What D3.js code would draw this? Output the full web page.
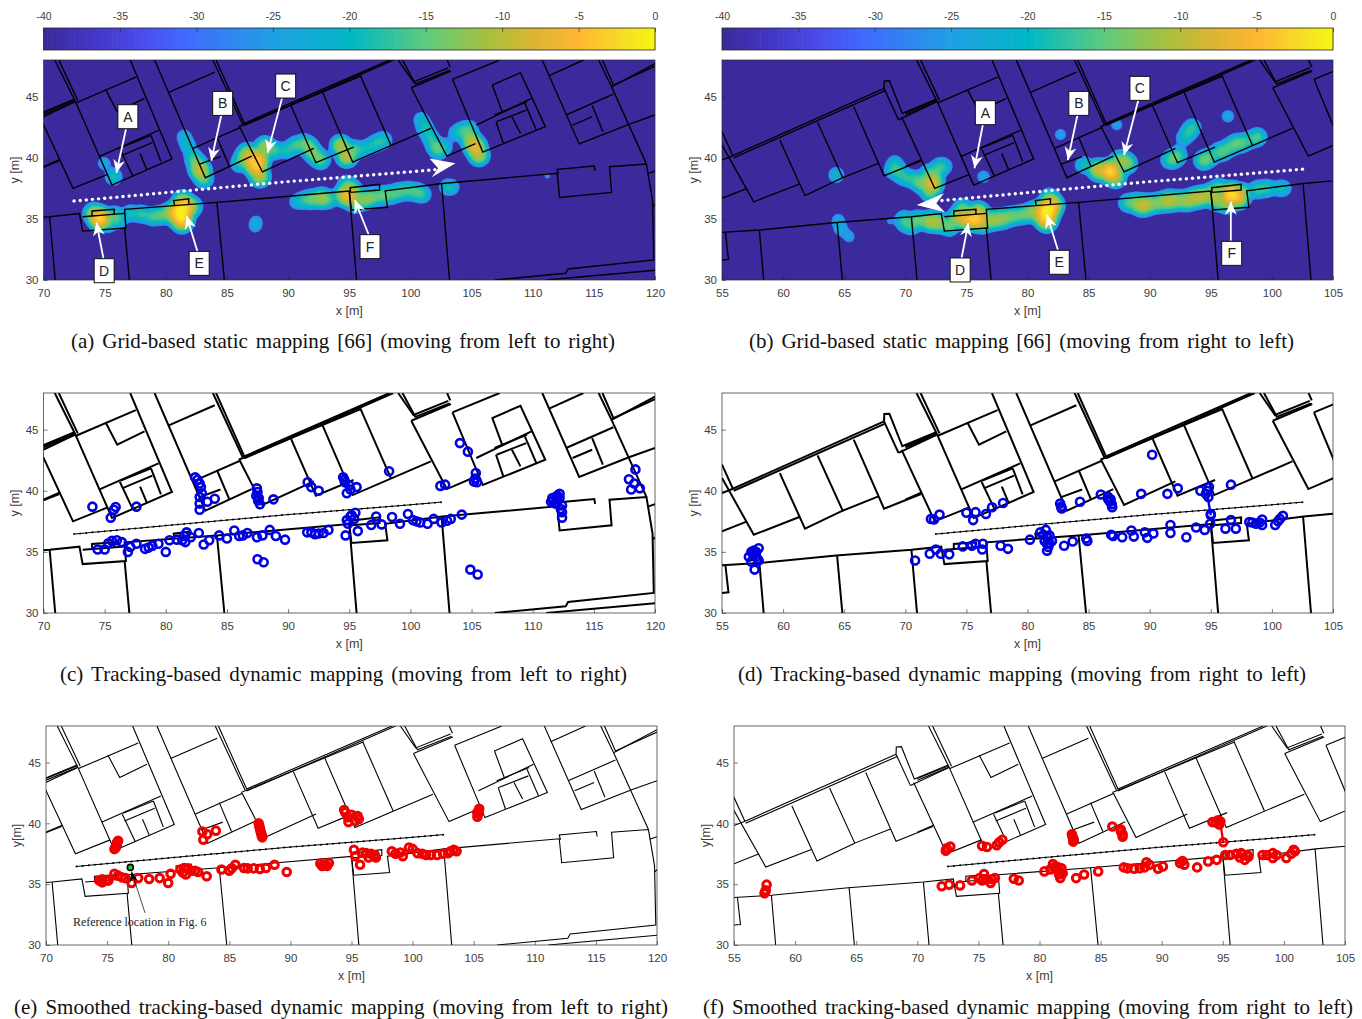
<!DOCTYPE html>
<html><head><meta charset="utf-8">
<script src="https://cdn.jsdelivr.net/npm/d3@7"></script>
<style>html,body{margin:0;padding:0;background:#fff}svg{display:block}text{font-family:"Liberation Sans",sans-serif;fill:#404040}</style>
</head><body><svg id="c" width="1362" height="1019"></svg>
<script>
const xTicksA=[70,75,80,85,90,95,100,105,110,115,120];
const xTicksB=[55,60,65,70,75,80,85,90,95,100,105];
const yTicks=[30,35,40,45];
const cbTicks=[-40,-35,-30,-25,-20,-15,-10,-5,0];
const cbStops=[-40,-37,-34,-31,-25,-20,-15,-11,-8,-5,-2,0];
const cbColors=["#3b2a9c","#4336c4","#4a4ae8","#4068ff","#20a0e4","#00b8c4","#5fcc7c","#a8c03c","#dcb432","#ffb832","#f4e024","#f8f810"];
const captions=["(a) Grid-based static mapping [66] (moving from left to right)","(b) Grid-based static mapping [66] (moving from right to left)","(c) Tracking-based dynamic mapping (moving from left to right)","(d) Tracking-based dynamic mapping (moving from right to left)","(e) Smoothed tracking-based dynamic mapping (moving from left to right)","(f) Smoothed tracking-based dynamic mapping (moving from right to left)"];

const mapLines=[
[[55,33.9],[58.06,34.09],[64.35,34.7],[70.5,35.18],[72.94,35.43],[73.2,34.0],[76.74,34.25],[76.63,35.78],[84.18,36.35],[95,37.28],[95.18,35.73],[98.12,35.95],[97.94,37.3],[102.6,37.9],[112,38.73],[112.2,36.76],[116.45,37.17],[116.28,39.27],[119.3,39.49],[119.8,36.5],[119.9,31.64],[112.9,30.9],[112.7,30.55],[106.9,30]],
[[73.2,35.18],[76.67,35.45]],
[[73.97,35.2],[73.97,35.65],[75.78,35.78],[75.78,35.37]],
[[80.71,36.11],[80.64,36.49],[81.88,36.65],[81.88,36.22]],
[[95.11,37.17],[95.07,37.55],[97.48,37.83],[97.48,37.36],[95.11,37.17]],
[[112.1,38.64],[112,39.05],[115.04,39.33],[115.1,38.92]],
[[55.28,33.9],[55.53,31.69],[55,31.64]],
[[58.06,34.09],[58.41,30]],[[64.42,34.7],[64.85,30]],[[70.5,35.18],[70.96,30]],[[76.63,34.3],[77.02,30]],[[84.18,36.35],[84.79,30]],[[95,37.28],[95.6,30]],[[102.55,37.9],[103.2,30]],
[[111.1,30],[120,30.8]],[[119.4,38.7],[120,38.9]],[[119.8,36],[120,36.2]],
[[70,43.69],[72.59,44.73]],[[70,43.55],[72.59,44.6]],
[[70.92,48],[72.59,44.64]],[[71.25,48],[72.8,44.7]],
[[72.59,44.64],[75.6,37.77],[80.5,39.9],[77.09,48]],
[[72.66,44.5],[77.55,46.6]],
[[75.07,45.6],[76.03,43.77],[78.26,44.86]],
[[74.54,40.09],[79.4,42.24]],
[[76.31,40.83],[78.79,41.84]],[[76.42,40.2],[78.9,41.24]],[[76.24,40.74],[77.3,38.5]],[[77.9,40.34],[78.44,39.05]],[[78.79,41.84],[79.6,39.7]],
[[55,41.05],[57.6,36.4],[61.33,37.85]],
[[69.7,43.35],[72.41,37.5],[75.25,38.64]],
[[70,39.27],[71.35,39.87]],
[[79.08,48],[83.23,38.37],[87.02,40.14]],
[[84.11,48],[86.42,42.82],[98.3,48]],[[83.85,48],[86.3,42.72]],[[86.42,42.65],[98.6,48]],
[[80.2,45.33],[84,47]],
[[82.23,40.77],[86.06,42.46],[87.9,38.84],[92.1,40.77]],
[[90.25,44.23],[92.27,39.6],[95.35,40.88]],
[[92.8,45.4],[95.28,39.65],[101.67,42.4]],
[[95.92,46.7],[98.4,41.04]],
[[85.96,42.54],[96,46.7]],
[[84.18,41.7],[85.18,39.33]],[[82.7,39.46],[84.47,40.1]],
[[99,48],[100.25,46.2],[103.1,47.35]],[[99.35,48],[100.4,46.05],[103.2,47.15]],[[103,48],[103.26,47.4]],
[[100.07,45.73],[102.98,40.14],[105.32,41.15]],[[100.07,45.73],[103.3,47.1]],
[[103.44,46.42],[105.92,40.47],[111.03,42.54],[109,46.96],[106.7,45.95],[107.5,43.77]],
[[103.44,46.42],[107.3,48]],
[[105.39,42.68],[109.9,44.86]],[[106.88,43.5],[109.54,44.59]],[[107.05,42.95],[109.47,43.9]],
[[107.6,41.18],[107,42.95]],[[109,42],[108.3,43.36]],[[110.3,42.27],[109.36,44.45]],
[[110.78,48],[113.8,41.13],[117.87,42.74],[120,43.5]],[[111.3,46.7],[114.15,48]],
[[115.39,48],[116.45,45.8],[120,47.7]],[[115.7,48],[116.6,45.95],[120,47.5]],
[[116.45,45.8],[119.3,39.5]],[[112.73,43.5],[116.6,45.2]],[[114.86,44.3],[115.74,42.14]],[[113.26,42.68],[114.86,43.36]],
[[55,42.14],[55.89,40.17],[68.26,45.68]],[[55,39.82],[55.89,40.17]],[[55.95,40],[68.35,45.5]],
[[68.26,45.68],[68.28,46.28],[68.7,46.3],[69.76,43.64],[72.53,44.8]],[[68.26,45.68],[69.44,43.1]],[[69.44,43.1],[72.5,44.55]],
[[55,36.68],[57.06,37.5]],[[59.73,41.45],[61.79,36.9],[64.88,38.37]],[[62.82,42.9],[64.88,38.37],[67.8,39.54]],[[65.78,44.18],[68.26,38.53],[71.29,39.74]]
];

const trackX=[72.5,73,73.5,74,74.5,75,75.5,76,76.5,77,77.5,78,78.5,79,79.5,80,80.5,81,81.5,82,82.5,83,83.5,84,84.5,85,85.5,86,86.5,87,87.5,88,88.5,89,89.5,90,90.5,91,91.5,92,92.5,93,93.5,94,94.5,95,95.5,96,96.5,97,97.5,98,98.5,99,99.5,100,100.5,101,101.5,102,102.5];
const trackY=[36.46,36.5,36.55,36.6,36.64,36.69,36.73,36.78,36.83,36.87,36.92,36.96,37.01,37.06,37.1,37.15,37.2,37.24,37.29,37.33,37.38,37.42,37.47,37.51,37.56,37.6,37.65,37.69,37.74,37.78,37.83,37.87,37.92,37.96,38.01,38.05,38.09,38.13,38.17,38.21,38.25,38.29,38.33,38.37,38.41,38.45,38.49,38.53,38.57,38.61,38.65,38.69,38.73,38.77,38.81,38.85,38.9,38.94,38.98,39.03,39.07];

const heatA=[[75.74,38.45,-22],[74.96,39.54,-27],[81.5,41.7,-25],[82.2,40.1,-22],[82.8,39,-12],[83.1,38.3,-18],[86.67,40.36,-15],[87.4,39.3,-7],[87.7,38.45,-14],[88.1,40.9,-15],[86,39.5,-22],[89.9,40.6,-22],[91.3,41.2,-20],[92,40.4,-18],[92.7,39.8,-20],[94.3,41,-14],[94.8,40.1,-13],[96.6,40.9,-24],[97.8,41.45,-22],[100.9,43.1,-24],[101.6,41.7,-22],[102.3,40.6,-20],[103.7,42,-25],[104.75,42.3,-20],[105.3,40.9,-10],[105.6,40.2,-14],[74.6,35.05,-6],[74.1,35.45,-15],[75.3,34.6,-22],[77.1,35.45,-22],[78.9,35.2,-20],[80.3,35.45,-18],[81.2,35.6,-2],[81.35,36.5,-16],[82.2,36,-18],[81.35,34.5,-22],[91.3,36.55,-22],[92.7,36.7,-15],[90.7,36.4,-25],[94.65,36.95,-12],[94.8,37.8,-20],[95.5,36.3,-18],[96.95,36.8,-18],[99.1,37.2,-20],[100.5,37.2,-20],[103,37.6,-24],[87.3,34.36,-28],[87.4,34.8,-28],[111.2,38.5,-31],
[81.8,41,-24],[82.5,39.6,-18],[86.3,40,-20],[87,39.9,-10],[87.6,39.9,-10],[88.9,40.6,-20],[90.6,41,-20],[91.7,40.9,-18],[92.4,40,-20],[95.4,40.7,-20],[96,40.6,-24],[97.2,41.2,-22],[101.2,42.4,-22],[102,41,-20],[102.8,40.9,-24],[104.2,42.2,-22],[104.9,41.5,-15],[75.8,35.3,-20],[76.1,34.9,-22],[78,35.4,-21],[79.6,35.3,-19],[80.7,35.5,-12],[81.3,35,-6],[81.6,36,-7],[91.9,36.6,-18],[93.3,36.6,-20],[95,36.8,-12],[95.2,37.3,-14],[96.3,36.6,-16],[97.8,36.9,-18],[98.5,37,-20],[99.8,37.3,-20],[101,37,-22],[103.4,37.6,-25]];
const heatB=[[68.98,39,-22],[69.15,39.55,-24],[69.7,38.45,-24],[70.9,38.2,-22],[72.2,37.9,-10],[72.5,38.7,-20],[73.2,39.3,-24],[72,37.2,-18],[64.35,38.6,-24],[76.4,38.45,-27],[82.7,41.9,-28],[84.6,39.4,-22],[86.76,38.9,-6],[88.2,39.5,-18],[87.3,42.7,-28],[91.6,39.8,-22],[92.3,40.2,-20],[93.2,42.1,-22],[93.5,42.5,-22],[92.8,41.6,-24],[94.4,39.8,-18],[95.6,40.5,-22],[97.1,41.2,-20],[98.85,41.7,-20],[96.4,43.4,-27],[64.7,34.2,-26],[65.4,33.55,-28],[64.5,34.9,-27],[68.7,34.8,-31],[70,34.6,-22],[72,34.8,-14],[73.6,34.4,-18],[75,35,-10],[75.7,35,-7],[74.7,35.85,-18],[77.15,34.9,-15],[78.6,35.2,-18],[80,35.45,-18],[81.6,35.7,-1],[81.8,36.7,-18],[81.6,34.6,-20],[88.2,36.3,-20],[89.4,36.1,-13],[90.7,36.3,-18],[91.7,36.5,-14],[93.1,36.5,-15],[94.2,36.8,-14],[95.65,37.5,-18],[96.7,37,-5],[96.3,36.3,-15],[98.85,37.4,-20],[100.6,37.5,-24],
[69.5,38.9,-22],[70.3,38.3,-22],[71.3,37.9,-18],[71.9,38.7,-20],[72.8,39.3,-22],[85.8,39,-12],[87.2,38.4,-14],[87.5,39.8,-18],[87.9,39.7,-18],[92,39.9,-20],[94.9,40,-20],[96,40.5,-20],[96.6,40.9,-20],[97.6,41.2,-20],[98.3,41.5,-22],[69.9,35,-22],[70.5,34.4,-22],[71,34.9,-18],[72.7,34.7,-15],[74.3,35.1,-14],[76,35.5,-12],[76.3,34.7,-14],[77.9,35,-16],[79.3,35.3,-19],[80.7,35.6,-14],[81.5,35.1,-6],[82,36.1,-8],[88.9,36.3,-17],[90,36.2,-16],[91.2,36.4,-17],[92.4,36.5,-17],[93.7,36.7,-15],[95,37,-14],[95.5,36.5,-16],[97.3,36.7,-12],[97.5,37.1,-16],[99.6,37.5,-21],[101,37.5,-25]];

const tracksC=[[74,38.7],[75.5,37.8],[75.75,38.45],[75.9,38.67],[77.6,38.7],[82.4,41.1],[82.77,40.6],[82.87,40.3],[82.77,39.5],[82.77,38.95],[82.77,38.45],[83.4,39.1],[84,39.35],[87.45,40.2],[87.4,39.6],[87.55,39.2],[87.7,38.9],[88.8,39.3],[91.6,40.7],[91.9,40.3],[92.5,40],[94.5,41.1],[94.65,40.7],[95,40.45],[94.8,39.8],[95.6,40.3],[98.26,41.6],[102.45,40.4],[102.84,40.5],[104.05,43.9],[104.7,43.2],[105.35,41.45],[105.2,40.75],[105.45,40.7],[117.87,40.94],[118.4,41.75],[118.05,40.1],[118.76,40.2],[118.3,40.6],[111.67,39.2],[112,39.6],[112.2,39.75],[111.5,39.1],[111.85,38.95],[112.4,38.8],[112.4,38.25],[112.4,37.8],[74.43,35.2],[75,35.2],[75.6,35.9],[76,35.95],[76.4,35.8],[76.9,35],[77.1,35.4],[77.6,35.67],[78.3,35.25],[78.9,35.5],[79.4,35.67],[80,35],[80.3,35.95],[81.35,35.95],[81.7,36.6],[82.05,36.2],[82.7,36.55],[83.1,35.6],[83.55,35.95],[84.36,36.35],[85,36.1],[85.6,36.75],[86,36.3],[86.67,36.55],[87.45,36.2],[87.9,36.35],[88.5,36.8],[89,36.3],[89.75,36],[91.56,36.6],[92.5,36.5],[92.9,36.55],[93.3,36.8],[94.7,36.35],[94.8,37.6],[95.2,38],[95.5,38.2],[95.7,36.7],[96.8,37.2],[97.2,37.9],[97.65,37.25],[98.5,37.85],[99.15,37.3],[99.8,38.1],[100.5,37.5],[101.4,37.3],[101.9,37.7],[102.55,37.4],[103.3,37.7],[104.2,38.05],[87.5,34.4],[88,34.15],[104.9,33.55],[105.5,33.15],
[112,39.3],[111.9,39.5],[111.6,39.4],[112.2,39.4],[112,39],[112.3,38.5],[87.5,39.9],[87.6,39.4],[82.6,40.9],[82.95,39.8],[105.3,41],[95.1,40.1],[94.6,40.9],[75.3,35.7],[78.6,35.35],[80.9,36],[81.5,36.3],[81.6,35.8],[86.3,36.35],[91.9,36.6],[92.2,36.45],[95.1,37.9],[94.9,37.3],[95.4,37.7],[100.2,37.6],[100.8,37.4],[103,37.55]];
const tracksD=[[57.4,35],[58,35.3],[57.6,34.7],[57.4,34.2],[58,34.3],[57.67,33.55],[57.2,34.6],[57.8,35],[70.8,34.3],[72,34.85],[72.5,35.2],[72.9,34.85],[73.6,34.8],[74.7,35.45],[75.45,35.5],[75.75,35.67],[76.35,35.67],[76.3,35.2],[77.8,35.5],[78.4,35.25],[80.2,36],[81.05,36.6],[81.8,36.35],[81.6,35.67],[81.6,35.1],[82,35.9],[83,35.5],[83.7,35.85],[84.8,36.1],[84.9,35.9],[86.85,36.4],[87.75,36.2],[88.5,36.75],[88.7,36.25],[89.6,36.6],[89.8,36.15],[90.3,36.5],[91.7,37.2],[91.7,36.55],[93,36.2],[93.8,37],[94.5,36.8],[94.95,37.3],[96.2,36.9],[96.65,37.6],[97.05,36.9],[98.15,37.45],[98.7,37.3],[99.2,37.65],[99.2,37.2],[100.27,37.2],[100.65,37.7],[100.9,37.95],[72.1,37.7],[72.35,37.65],[72.8,38.05],[75,38.2],[75.55,37.6],[75.75,38.25],[76.6,38.1],[77.1,38.65],[78,39],[82.67,38.95],[82.8,38.55],[84.3,39.1],[86,39.7],[86.6,39.5],[86.75,39.1],[86.93,38.65],[89.3,39.75],[90.2,42.95],[91.45,39.75],[92.3,40.2],[94.15,40],[94.85,40.3],[94.6,39.75],[96.65,40.5],[95,38],
[57.6,35.1],[57.5,34.9],[57.8,34.6],[57.9,34.4],[81.3,36.4],[81.6,36.2],[81.4,35.9],[81.8,35.7],[81.7,35.4],[81.5,36.8],[86.8,39.3],[86.9,38.9],[86.6,39.3],[82.75,38.7],[94.7,40],[95,38.1],[94.8,39.5],[87,36.3],[98.4,37.4],[99,37.4],[100.5,37.5]];
const tracksE=[[75.6,37.9],[75.9,38.56],[75.8,38.2],[82.87,38.65],[82.8,39.33],[83.2,39.1],[83.9,39.4],[87.4,40],[87.5,39.6],[87.6,39.2],[87.7,38.85],[94.4,41.1],[94.75,40.1],[95.6,40.36],[95,40.7],[105.4,41],[105.3,40.55],[74.36,35.3],[74.9,35.3],[75.6,35.85],[76.2,35.56],[77,35.1],[77.55,35.5],[78.44,35.43],[79.3,35.5],[80,35.1],[80.2,35.85],[81.3,36.33],[81.45,35.8],[82.45,36],[83.15,35.65],[84.36,36.2],[85,36.1],[85.5,36.6],[86.2,36.33],[87.5,36.25],[88,36.33],[88.7,36.6],[89.7,36],[92.45,36.7],[92.8,36.6],[93.15,36.73],[95.2,37.83],[95.3,37.3],[95.7,36.6],[96.2,37.55],[96.9,37.4],[98.3,37.7],[99.2,37.3],[99.7,38],[100.4,37.55],[101.1,37.4],[102,37.4],[102.9,37.55],[103.37,37.83],
[75.7,38],[75.8,38.4],[87.45,39.8],[87.55,39.4],[87.65,39],[94.5,40.9],[94.7,40.5],[95.3,40.2],[95.5,40.6],[105.35,40.8],[105.45,41.2],[105.3,40.9],[74.6,35.4],[75.1,35.3],[75.9,35.7],[76.5,35.5],[74.6,35.15],[81,36.2],[81.2,35.95],[81.6,36.3],[81.9,36.1],[82.2,36.1],[85.2,36.3],[86.5,36.3],[87,36.3],[92.6,36.5],[93,36.5],[95.9,37.6],[96.6,37.5],[97,37.2],[96.4,37.2],[98.6,37.5],[99,37.6],[100,37.9],[100.8,37.5],[101.5,37.4],[102.5,37.5],[103.1,37.7],[103.6,37.7]];
const tracksF=[[57.56,34.36],[57.67,34.96],[72,34.83],[72.6,34.96],[73.5,34.9],[74.47,35.3],[75.46,35.84],[75.3,35.3],[76,35.1],[76.35,35.5],[77.9,35.45],[78.3,35.3],[80.4,36.05],[81.1,36.65],[81.7,36.05],[81.7,35.5],[83,35.5],[83.65,35.8],[84.8,36.05],[86.9,36.38],[87.75,36.27],[88.75,36.8],[88.6,36.38],[89.7,36.27],[90.1,36.46],[91.5,36.73],[91.85,36.6],[92.9,36.38],[93.8,36.87],[94.5,37],[95.2,37.4],[96.5,37.55],[96.8,37],[98.25,37.4],[99.1,37.55],[99.1,37.15],[100.2,37.15],[100.8,37.83],[72.33,37.75],[72.7,38.1],[75.3,38.15],[75.7,38.05],[76.5,38.2],[76.96,38.65],[82.7,38.9],[82.76,38.5],[85.96,39.74],[86.67,39.33],[86.8,38.9],[94.15,40.1],[94.8,40.15],[95.04,38.45],
[57.6,34.5],[57.5,34.25],[81.5,36.4],[81.8,36.3],[81.9,35.9],[81.6,35.8],[81.2,36.4],[80.9,36.2],[86.8,39.1],[86.65,39.5],[82.8,38.7],[82.65,39.1],[94.4,40.1],[94.6,40.25],[94.7,39.9],[72.4,37.95],[76.7,38.45],[75.1,35.5],[75.6,35.4],[76.1,35.4],[95.6,37.4],[96.1,37.5],[96.4,37.2],[97,37.4],[97.1,37.25],[98.6,37.4],[99.4,37.4],[100.6,37.5],[100.9,37.7],[87.2,36.3],[88.2,36.3],[89,36.6],[91.7,36.9]];
const linkD=[[94.7,39.75],[95,38]];
const linkF=[[94.8,40],[95.04,38.45]];

const calloutsA=[["A",76.9,43.36,76.74,42.33,75.96,38.78],["B",84.65,44.45,84.54,43.5,83.72,39.76],["C",89.8,45.87,89.5,44.86,88.33,40.42],["D",74.96,30.76,74.9,31.77,74.33,34.7],["E",82.73,31.36,82.6,32.3,81.7,35.24],["F",96.7,32.73,96.6,33.68,95.46,36.54]];
const calloutsB=[["A",76.55,43.69,76.34,42.68,75.66,39.14],["B",84.2,44.45,84.09,43.5,83.3,39.82],["C",89.2,45.68,89.07,44.73,87.9,40.23],["D",74.49,30.82,74.6,31.77,75.16,34.64],["E",82.6,31.45,82.49,32.45,81.6,35.32],["F",96.71,32.18,96.64,33.22,96.64,36.41]];
const bigArrowA=[[103.69,39.55],[101.56,39.95],[102.27,39.14],[101.74,38.4]];
const bigArrowB=[[70.93,36.14],[73.17,37.09],[72.53,36.27],[73.24,35.54]];
const refPoint=[76.9,36.38];
const refArrow=[[78.1,32.65],[77,36.05]];
const refLabel=[72.2,31.55,"Reference location in Fig. 6"];

const color=d3.scaleLinear().domain(cbStops).range(cbColors).interpolate(d3.interpolateRgb).clamp(true);
const svg=d3.select("#c");
const defs=svg.append("defs");
const XA=[70,120],XB=[55,105];
const panels=[
 {id:"a",dom:XA,xt:xTicksA,l:43.5,r:655,t:60,b:280,lw:1.4,heat:heatA,call:calloutsA,big:bigArrowA,yl:19,ylab:"y [m]",cap:[71,615,341],cb:1},
 {id:"b",dom:XB,xt:xTicksB,l:722,r:1333,t:60,b:280,lw:1.4,heat:heatB,call:calloutsB,big:bigArrowB,yl:698,ylab:"y [m]",cap:[749,1294,341],cb:1},
 {id:"c",dom:XA,xt:xTicksA,l:43.5,r:655,t:393,b:613,lw:2,pts:tracksC,col:"#0000e0",yl:19,ylab:"y [m]",cap:[60,627,674]},
 {id:"d",dom:XB,xt:xTicksB,l:722,r:1333,t:393,b:613,lw:2,pts:tracksD,col:"#0000e0",link:linkD,yl:698,ylab:"y [m]",cap:[738,1306,674]},
 {id:"e",dom:XA,xt:xTicksA,l:46,r:657,t:726,b:945,lw:1.1,pts:tracksE,col:"#f00000",yl:21,ylab:"y[m]",cap:[14,668,1007],ref:1},
 {id:"f",dom:XB,xt:xTicksB,l:734,r:1345,t:726,b:945,lw:1.1,pts:tracksF,col:"#f00000",link:linkF,yl:710,ylab:"y[m]",cap:[703,1353,1007]}
];
const ink="#262626";
const plain=d=>String(d);
function styleAxis(g){g.selectAll("path").attr("stroke","none");g.selectAll("line").attr("stroke",ink).attr("stroke-width",.6);g.selectAll("text").attr("font-size",11.5).attr("font-family","Liberation Sans").attr("fill","#404040");}

panels.forEach(p=>{
 const x=d3.scaleLinear().domain(p.dom).range([p.l,p.r]);
 const y=d3.scaleLinear().domain([30,48]).range([p.b,p.t]);
 const g=svg.append("g").attr("class","panel-"+p.id);
 defs.append("clipPath").attr("id","clip"+p.id).append("rect").attr("x",p.l).attr("y",p.t).attr("width",p.r-p.l).attr("height",p.b-p.t);
 const plot=g.append("g").attr("clip-path","url(#clip"+p.id+")");
 if(p.heat){
  plot.append("rect").attr("x",p.l).attr("y",p.t).attr("width",p.r-p.l).attr("height",p.b-p.t).attr("fill",color(-40));
  const step=.2,nx=Math.round((p.dom[1]-p.dom[0])/step)+1,ny=Math.round(18/step)+1,vals=new Float64Array(nx*ny);
  for(let j=0;j<ny;j++)for(let i=0;i<nx;i++){
   const wx=p.dom[0]+i*step,wy=30+j*step;let s=1e-6;
   p.heat.forEach(h=>{const d=(wx-h[0])**2+(wy-h[1])**2;s+=Math.pow(10,(Math.min(h[2]+4,0)-18*d)/10);});
   vals[j*nx+i]=10*Math.log10(s);
  }
  const th=d3.range(-28,0.5,1.5);
  const proj=d3.geoTransform({point(a,b){this.stream.point(x(p.dom[0]+(a-.5)*step),y(30+(b-.5)*step));}});
  const path=d3.geoPath(proj);
  plot.selectAll("path.h").data(d3.contours().size([nx,ny]).thresholds(th)(vals)).join("path").attr("class","h").attr("d",path).attr("fill",d=>color(d.value));
 }
 const line=d3.line().x(d=>x(d[0])).y(d=>y(d[1]));
 plot.selectAll("path.m").data(mapLines).join("path").attr("class","m").attr("d",line).attr("fill","none").attr("stroke","#000").attr("stroke-width",p.lw).attr("stroke-linejoin","miter");
 const tr=d3.zip(trackX,trackY);
 if(p.heat){
  plot.selectAll("circle.t").data(tr).join("circle").attr("class","t").attr("cx",d=>x(d[0])).attr("cy",d=>y(d[1])).attr("r",1.7).attr("fill","#fff");
 } else {
  plot.append("path").attr("d",line(tr)).attr("fill","none").attr("stroke","#000").attr("stroke-width",1);
  plot.selectAll("circle.t").data(tr).join("circle").attr("class","t").attr("cx",d=>x(d[0])).attr("cy",d=>y(d[1])).attr("r",1).attr("fill","#000");
 }
 if(p.link)plot.append("path").attr("d",line(p.link)).attr("stroke",p.col).attr("stroke-width",2.4).attr("fill","none");
 if(p.pts){
  plot.selectAll("circle.p").data(p.pts).join("circle").attr("class","p").attr("cx",d=>x(d[0])).attr("cy",d=>y(d[1])).attr("r",p.id>"d"?3.8:4).attr("fill","none").attr("stroke",p.col).attr("stroke-width",p.id>"d"?3:2.6);
 }
 const ax=g.append("g").attr("transform",`translate(0,${p.b})`).call(d3.axisBottom(x).tickValues(p.xt).tickFormat(plain).tickSize(-4).tickPadding(9));
 const ay=g.append("g").attr("transform",`translate(${p.l},0)`).call(d3.axisLeft(y).tickValues(yTicks).tickFormat(plain).tickSize(-4).tickPadding(5));
 styleAxis(ax);styleAxis(ay);
 g.append("rect").attr("x",p.l).attr("y",p.t).attr("width",p.r-p.l).attr("height",p.b-p.t).attr("fill","none").attr("stroke",ink).attr("stroke-width",.7);
 g.append("text").attr("x",(p.l+p.r)/2).attr("y",p.b+35).attr("text-anchor","middle").attr("font-size",12.5).text("x [m]");
 g.append("text").attr("transform",`translate(${p.yl},${(p.t+p.b)/2}) rotate(-90)`).attr("text-anchor","middle").attr("font-size",12.5).text(p.ylab);
 if(p.cb){
  const cx=d3.scaleLinear().domain([-40,0]).range([p.l,p.r]);
  const cb=g.append("g");
  cb.selectAll("rect").data(d3.range(-40,0,.25)).join("rect").attr("x",d=>cx(d)).attr("y",28).attr("width",(p.r-p.l)/160+.6).attr("height",22).attr("fill",d=>color(d));
  const cax=g.append("g").attr("transform","translate(0,28)").call(d3.axisTop(cx).tickValues(cbTicks).tickFormat(plain).tickSize(-4).tickPadding(8));
  styleAxis(cax);cax.selectAll("text").attr("font-size",10.5);
  g.append("rect").attr("x",p.l).attr("y",28).attr("width",p.r-p.l).attr("height",22).attr("fill","none").attr("stroke",ink).attr("stroke-width",.8);
 }
 if(p.call){
  const arrow=(x0,y0,x1,y1)=>{const a=Math.atan2(y1-y0,x1-x0),L=13,W=6,N=9;
   const pt=(d,o)=>[x1-d*Math.cos(a)-o*Math.sin(a),y1-d*Math.sin(a)+o*Math.cos(a)];
   return [[x1,y1],pt(L,W),pt(N,0),pt(L,-W)];};
  p.call.forEach(c=>{
   const [lab,bx,by,tx,ty,hx,hy]=c;
   g.append("line").attr("x1",x(tx)).attr("y1",y(ty)).attr("x2",x(hx)).attr("y2",y(hy)).attr("stroke","#fff").attr("stroke-width",1.8);
   g.append("path").attr("d","M"+arrow(x(tx),y(ty),x(hx),y(hy)).join("L")+"Z").attr("fill","#fff");
   g.append("rect").attr("x",x(bx)-10).attr("y",y(by)-12).attr("width",20).attr("height",24).attr("fill","#fff").attr("stroke","#111").attr("stroke-width",1);
   g.append("text").attr("x",x(bx)).attr("y",y(by)+5).attr("text-anchor","middle").attr("font-size",14).style("fill","#222").text(lab);
  });
  g.append("path").attr("d","M"+p.big.map(d=>[x(d[0]),y(d[1])]).join("L")+"Z").attr("fill","#fff");
 }
 if(p.ref){
  g.append("line").attr("x1",x(refArrow[0][0])).attr("y1",y(refArrow[0][1])).attr("x2",x(refArrow[1][0])).attr("y2",y(refArrow[1][1])).attr("stroke","#000").attr("stroke-width",.7);
  const hx=x(refArrow[1][0]),hy=y(refArrow[1][1]);
  g.append("path").attr("d",`M${hx},${hy}L${hx+6},${hy+9}L${hx+1},${hy+7}L${hx-2},${hy+12}Z`).attr("fill","#000");
  g.append("circle").attr("cx",x(refPoint[0])).attr("cy",y(refPoint[1])).attr("r",3).attr("fill","#1bd01b").attr("stroke","#000").attr("stroke-width",1.6);
  g.append("text").attr("x",x(refLabel[0])).attr("y",y(refLabel[1])).attr("font-size",12).style("font-family","Liberation Serif").style("fill","#222").text(refLabel[2]);
 }
});
panels.forEach((p,i)=>{
 const t=svg.append("text").attr("x",p.cap[0]).attr("y",p.cap[2]+7).attr("font-size",21).style("font-family","Liberation Serif").style("fill","#111").text(captions[i]);
 const w=t.node().getComputedTextLength(),n=captions[i].split(" ").length-1;
 t.style("word-spacing",((p.cap[1]-p.cap[0]-w)/n)+"px");
});
</script></body></html>
